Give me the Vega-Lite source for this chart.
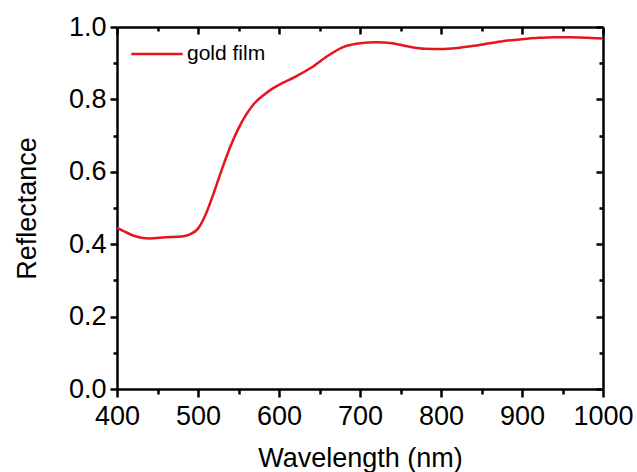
{
  "$schema": "https://vega.github.io/schema/vega-lite/v6.json",
  "autosize": "none",
  "width": 486,
  "height": 362,
  "padding": {"left": 117, "top": 27, "right": 34, "bottom": 83},
  "background": "white",
  "config": {
    "view": {"stroke": null},
    "font": "Liberation Sans",
    "axis": {
      "domainColor": "black",
      "domainWidth": 2.5,
      "tickColor": "black",
      "tickWidth": 2.5,
      "grid": false,
      "labelFont": "Liberation Sans",
      "labelFontSize": 27,
      "labelColor": "black",
      "titleFont": "Liberation Sans",
      "titleFontSize": 27,
      "titleFontWeight": "normal",
      "titleColor": "black"
    }
  },
  "data": {
    "values": [
      {"wavelength": 400, "reflectance": 0.445, "series": "gold film"},
      {"wavelength": 410, "reflectance": 0.434, "series": "gold film"},
      {"wavelength": 420, "reflectance": 0.424, "series": "gold film"},
      {"wavelength": 430, "reflectance": 0.418, "series": "gold film"},
      {"wavelength": 440, "reflectance": 0.416, "series": "gold film"},
      {"wavelength": 460, "reflectance": 0.419, "series": "gold film"},
      {"wavelength": 480, "reflectance": 0.421, "series": "gold film"},
      {"wavelength": 490, "reflectance": 0.427, "series": "gold film"},
      {"wavelength": 500, "reflectance": 0.443, "series": "gold film"},
      {"wavelength": 510, "reflectance": 0.485, "series": "gold film"},
      {"wavelength": 520, "reflectance": 0.545, "series": "gold film"},
      {"wavelength": 530, "reflectance": 0.61, "series": "gold film"},
      {"wavelength": 540, "reflectance": 0.67, "series": "gold film"},
      {"wavelength": 550, "reflectance": 0.72, "series": "gold film"},
      {"wavelength": 560, "reflectance": 0.76, "series": "gold film"},
      {"wavelength": 570, "reflectance": 0.79, "series": "gold film"},
      {"wavelength": 580, "reflectance": 0.81, "series": "gold film"},
      {"wavelength": 590, "reflectance": 0.827, "series": "gold film"},
      {"wavelength": 600, "reflectance": 0.84, "series": "gold film"},
      {"wavelength": 620, "reflectance": 0.862, "series": "gold film"},
      {"wavelength": 640, "reflectance": 0.888, "series": "gold film"},
      {"wavelength": 660, "reflectance": 0.92, "series": "gold film"},
      {"wavelength": 680, "reflectance": 0.945, "series": "gold film"},
      {"wavelength": 700, "reflectance": 0.955, "series": "gold film"},
      {"wavelength": 720, "reflectance": 0.958, "series": "gold film"},
      {"wavelength": 740, "reflectance": 0.955, "series": "gold film"},
      {"wavelength": 760, "reflectance": 0.946, "series": "gold film"},
      {"wavelength": 780, "reflectance": 0.94, "series": "gold film"},
      {"wavelength": 800, "reflectance": 0.939, "series": "gold film"},
      {"wavelength": 820, "reflectance": 0.942, "series": "gold film"},
      {"wavelength": 840, "reflectance": 0.948, "series": "gold film"},
      {"wavelength": 860, "reflectance": 0.955, "series": "gold film"},
      {"wavelength": 880, "reflectance": 0.962, "series": "gold film"},
      {"wavelength": 900, "reflectance": 0.966, "series": "gold film"},
      {"wavelength": 920, "reflectance": 0.97, "series": "gold film"},
      {"wavelength": 940, "reflectance": 0.972, "series": "gold film"},
      {"wavelength": 960, "reflectance": 0.972, "series": "gold film"},
      {"wavelength": 980, "reflectance": 0.97, "series": "gold film"},
      {"wavelength": 1000, "reflectance": 0.968, "series": "gold film"}
    ]
  },
  "layer": [
    {
      "mark": {"type": "line", "strokeWidth": 2.5, "interpolate": "monotone"},
      "encoding": {
        "x": {
          "field": "wavelength",
          "type": "quantitative",
          "scale": {"domain": [400, 1000], "nice": false},
          "axis": {
            "orient": "bottom",
            "title": "Wavelength (nm)",
            "values": [400, 450, 500, 550, 600, 650, 700, 750, 800, 850, 900, 950, 1000],
            "labelExpr": "datum.value % 100 === 0 ? format(datum.value, 'd') : ''",
            "tickSize": {"condition": {"test": "datum.value % 100 === 0", "value": 8}, "value": 5},
            "labelPadding": 6,
            "titlePadding": 16,
            "labelFlush": false
          }
        },
        "y": {
          "field": "reflectance",
          "type": "quantitative",
          "scale": {"domain": [0, 1], "nice": false},
          "axis": {
            "orient": "left",
            "title": "Reflectance",
            "values": [0, 0.1, 0.2, 0.3, 0.4, 0.5, 0.6, 0.7, 0.8, 0.9, 1.0],
            "labelExpr": "round(datum.value*10) % 2 === 0 ? format(datum.value, '.1f') : ''",
            "tickSize": {"condition": {"test": "round(datum.value*10) % 2 === 0", "value": 7}, "value": 4},
            "labelPadding": 4,
            "titlePadding": 27,
            "labelFlush": false
          }
        },
        "color": {
          "field": "series",
          "type": "nominal",
          "scale": {"range": ["#e8141c"]},
          "legend": {
            "orient": "none",
            "legendX": 13,
            "legendY": 0,
            "title": null,
            "padding": 0,
            "symbolType": "stroke",
            "symbolSize": 2650,
            "symbolStrokeWidth": 2.5,
            "labelFont": "Liberation Sans",
            "labelFontSize": 21,
            "labelColor": "black",
            "labelOffset": 3
          }
        }
      }
    },
    {
      "mark": {"type": "line", "strokeOpacity": 0},
      "encoding": {
        "x": {
          "field": "wavelength",
          "type": "quantitative",
          "scale": {"domain": [400, 1000], "nice": false},
          "axis": {
            "orient": "top",
            "title": null,
            "labels": false,
            "values": [400, 450, 500, 550, 600, 650, 700, 750, 800, 850, 900, 950, 1000],
            "tickSize": {"condition": {"test": "datum.value % 100 === 0", "value": -7}, "value": -4}
          }
        },
        "y": {
          "field": "reflectance",
          "type": "quantitative",
          "scale": {"domain": [0, 1], "nice": false},
          "axis": {
            "orient": "right",
            "title": null,
            "labels": false,
            "values": [0, 0.1, 0.2, 0.3, 0.4, 0.5, 0.6, 0.7, 0.8, 0.9, 1.0],
            "tickSize": {"condition": {"test": "round(datum.value*10) % 2 === 0", "value": -7}, "value": -4}
          }
        }
      }
    }
  ],
  "resolve": {"scale": {"x": "independent", "y": "independent"}, "axis": {"x": "independent", "y": "independent"}}
}
